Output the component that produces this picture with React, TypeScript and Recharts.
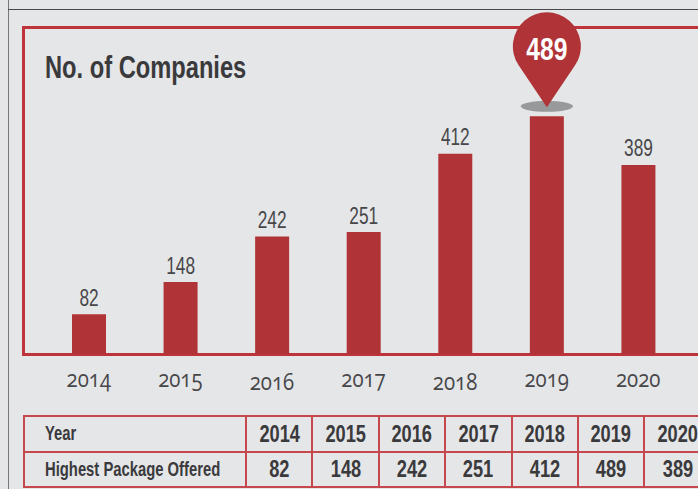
import { BarChart, Bar, XAxis, YAxis, LabelList } from "recharts";

const years = ["2014", "2015", "2016", "2017", "2018", "2019", "2020"];
const companies = [82, 148, 242, 251, 412, 489, 389];
const highlightYear = "2019";

const chartData = years.map((year, i) => ({ year, companies: companies[i] }));

const RED = "#b03437";
const LINE_RED = "#bf343b";
const TEXT = "#3a3a3c";
const SANS = "'Liberation Sans', Arial, sans-serif";

// no condensed face is installed, so narrow text is plain Liberation Sans squeezed sideways
function SqueezedText({ x, y, scale, children, ...rest }: any) {
  return (
    <text transform={`translate(${x} ${y}) scale(${scale} 1)`} textAnchor="middle" fontFamily={SANS} {...rest}>
      {children}
    </text>
  );
}

function Narrow({ scale, origin, children }: any) {
  return (
    <span style={{ display: "inline-block", transform: `scaleX(${scale})`, transformOrigin: origin }}>{children}</span>
  );
}

function YearTick({ x, y, payload }: any) {
  // the printed numerals sit on an uneven baseline, 2016 and 2018 hang lower
  const low = payload.value === "2016" || payload.value === "2018";
  return (
    <text
      transform={`translate(${x} ${y + (low ? 28 : 25)}) scale(0.85 1)`}
      textAnchor="middle"
      fill="#47474a"
      fontFamily="'Open Sans', sans-serif"
      fontSize={24}
      style={{ fontVariantNumeric: "oldstyle-nums", fontFeatureSettings: "'onum'" }}
    >
      {payload.value}
    </text>
  );
}

function ValueLabel({ x, y, width, value, index }: any) {
  const cx = x + width / 2;
  if (years[index] === highlightYear) {
    // map pin over the best year, tip just above the bar
    const tip = y - 9;
    const r = 34;
    const cy = tip - 61;
    return (
      <g>
        <ellipse cx={cx} cy={tip - 1} rx={26} ry={5.5} fill="#98999b" />
        <path
          d={`M ${cx} ${tip} L ${cx - 28.2} ${cy + 19} A ${r} ${r} 0 1 1 ${cx + 28.2} ${cy + 19} Z`}
          fill={RED}
        />
        <SqueezedText x={cx} y={cy + 14} scale={0.77} fill="#fff" fontWeight={700} fontSize={32}>
          {value}
        </SqueezedText>
      </g>
    );
  }
  return (
    <SqueezedText x={cx} y={y - 8.5} scale={0.72} fill="#47474a" fontSize={24}>
      {value}
    </SqueezedText>
  );
}

const cell: React.CSSProperties = {
  border: `2px solid #c4484e`,
  padding: 0,
  textAlign: "center",
  fontWeight: 700,
  fontSize: 24,
  color: TEXT,
  whiteSpace: "nowrap",
};
const headCell: React.CSSProperties = { ...cell, textAlign: "left", paddingLeft: 20, fontSize: 20 };

export default function App() {
  return (
    <div
      style={{
        position: "fixed",
        left: 0,
        top: 0,
        width: 698,
        height: 489,
        background: "#e5e6e8",
        overflow: "hidden",
        fontFamily: SANS,
      }}
    >
      <div style={{ position: "absolute", left: 8, top: 0, width: 1, height: 489, background: "#77787a" }} />
      <div style={{ position: "absolute", left: 8, top: 9, width: 690, height: 1, background: "#4a4a4c" }} />
      <div
        style={{
          position: "absolute",
          left: 22,
          top: 26,
          width: 700,
          height: 330,
          boxSizing: "border-box",
          border: `3px solid ${LINE_RED}`,
        }}
      />
      <div
        style={{
          position: "absolute",
          left: 45,
          top: 48,
          fontSize: 32,
          fontWeight: 700,
          lineHeight: "38px",
          color: TEXT,
          whiteSpace: "nowrap",
        }}
      >
        <Narrow scale={0.74} origin="left">
          No. of Companies
        </Narrow>
      </div>

      <div style={{ position: "absolute", left: 0, top: 0 }}>
        <BarChart
          width={698}
          height={489}
          data={chartData}
          margin={{ top: 111, right: 14, bottom: 0, left: 43 }}
        >
          <XAxis dataKey="year" height={135} axisLine={false} tickLine={false} tick={<YearTick />} interval={0} />
          <YAxis hide domain={[0, 500]} />
          <Bar dataKey="companies" fill={RED} barSize={34} isAnimationActive={false}>
            <LabelList dataKey="companies" content={<ValueLabel />} />
          </Bar>
        </BarChart>
      </div>

      <table
        style={{
          position: "absolute",
          left: 23,
          top: 415,
          width: 687,
          height: 73,
          tableLayout: "fixed",
          borderCollapse: "collapse",
        }}
      >
        <colgroup>
          <col style={{ width: 222 }} />
          {years.map((y) => (
            <col key={y} style={{ width: 66.4 }} />
          ))}
        </colgroup>
        <tbody>
          <tr>
            <td style={headCell}>
              <Narrow scale={0.74} origin="left">
                Year
              </Narrow>
            </td>
            {years.map((y) => (
              <td key={y} style={cell}>
                <Narrow scale={0.76} origin="center">
                  {y}
                </Narrow>
              </td>
            ))}
          </tr>
          <tr>
            <td style={headCell}>
              <Narrow scale={0.74} origin="left">
                Highest Package Offered
              </Narrow>
            </td>
            {companies.map((v, i) => (
              <td key={years[i]} style={cell}>
                <Narrow scale={0.76} origin="center">
                  {v}
                </Narrow>
              </td>
            ))}
          </tr>
        </tbody>
      </table>
    </div>
  );
}
